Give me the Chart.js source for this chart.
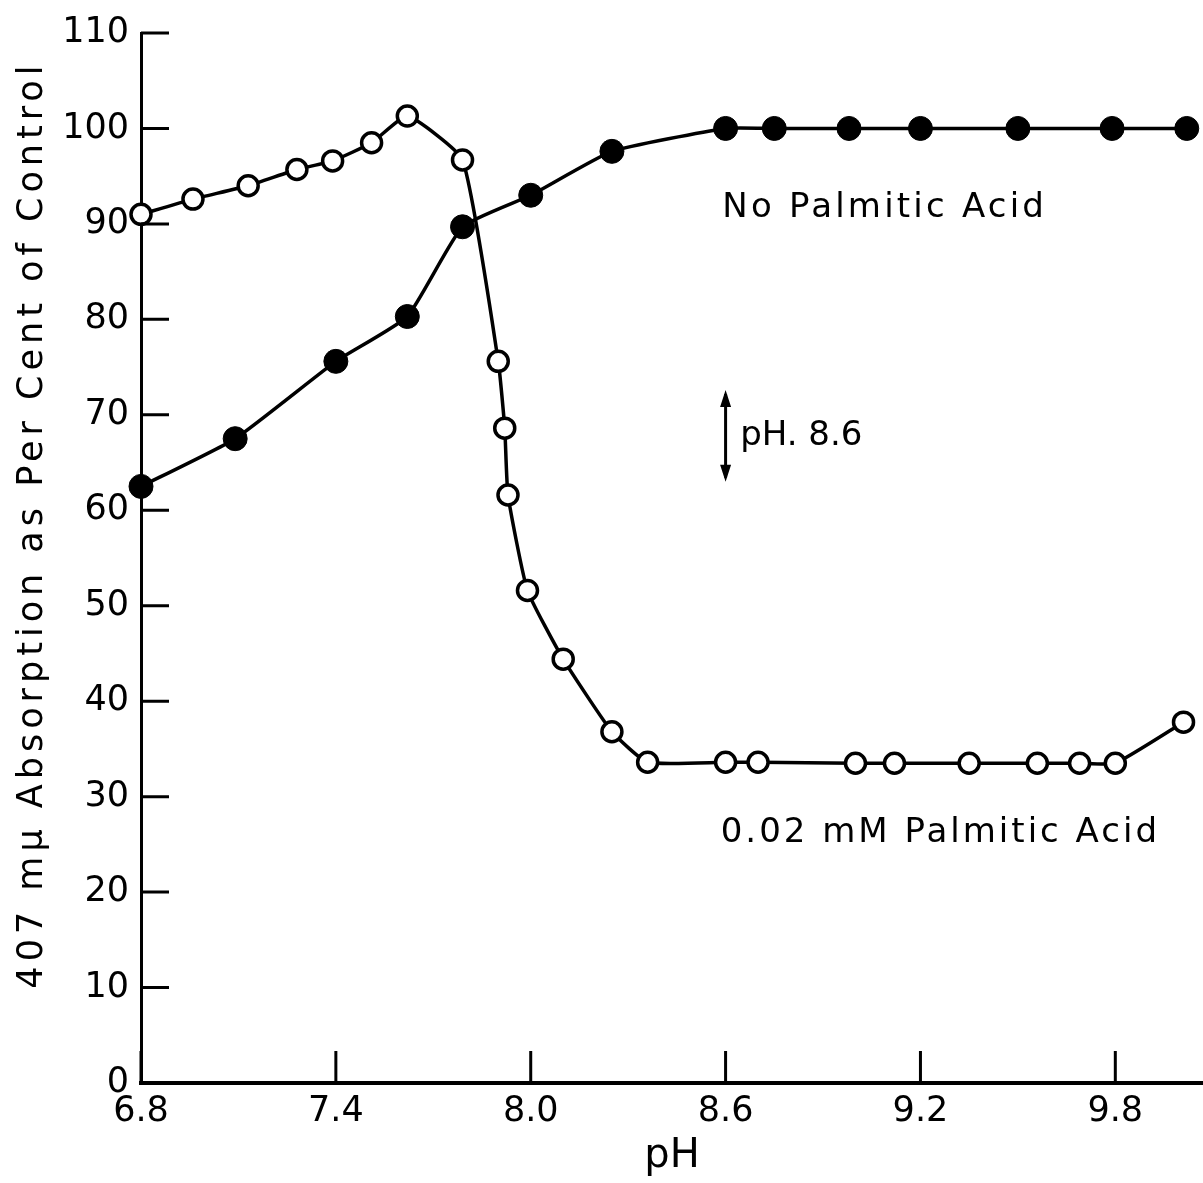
<!DOCTYPE html>
<html>
<head>
<meta charset="utf-8">
<script src="https://cdn.jsdelivr.net/npm/chart.js@4.4.1/dist/chart.umd.min.js"></script>
<style>
  html, body { margin: 0; padding: 0; background: #fff; }
  #wrap { width: 1203px; height: 1183px; position: relative; }
</style>
</head>
<body>
<div id="wrap"><canvas id="chart"></canvas></div>
<script>
// values (pH, % of control)
const openPH   = [6.80, 6.96, 7.13, 7.28, 7.39, 7.51, 7.62, 7.79, 7.90, 7.92, 7.93, 7.99, 8.10, 8.25, 8.36, 8.60, 8.70, 9.00, 9.12, 9.35, 9.56, 9.69, 9.80, 10.01];
const openVal  = [91.0, 92.6, 94.0, 95.7, 96.6, 98.5, 101.3, 96.7, 75.6, 68.6, 61.6, 51.6, 44.4, 36.8, 33.6, 33.6, 33.6, 33.5, 33.5, 33.5, 33.5, 33.5, 33.5, 37.8];
const filledPH  = [6.80, 7.09, 7.40, 7.62, 7.79, 8.00, 8.25, 8.60, 8.75, 8.98, 9.20, 9.50, 9.79, 10.02];
const filledVal = [62.5, 67.5, 75.6, 80.3, 89.7, 93.0, 97.6, 100, 100, 100, 100, 100, 100, 100];
const xTicks = [6.8, 7.4, 8.0, 8.6, 9.2, 9.8];
const yTicks = [0, 10, 20, 30, 40, 50, 60, 70, 80, 90, 100, 110];
const yTitle = '407 m\u03bc Absorption as Per Cent of Control';

const FONT = '"DejaVu Sans", sans-serif';
const INK = '#000';

function toPoints(xs, ys) {
    return xs.map((x, i) => ({ x: x, y: ys[i] }));
}

// ticks in this figure point into the plot, so draw them ourselves
const inwardTicks = {
    id: 'inwardTicks',
    afterDraw(chart) {
        const ctx = chart.ctx;
        const xs = chart.scales.x;
        const ys = chart.scales.y;
        const area = chart.chartArea;
        ctx.save();
        ctx.strokeStyle = INK;
        ctx.lineWidth = 3;
        ctx.beginPath();
        xTicks.forEach(v => {
            const px = xs.getPixelForValue(v);
            ctx.moveTo(px, area.bottom);
            ctx.lineTo(px, area.bottom - 32);
        });
        yTicks.forEach(v => {
            const py = ys.getPixelForValue(v);
            ctx.moveTo(area.left, py);
            ctx.lineTo(area.left + 28, py);
        });
        ctx.stroke();

        ctx.fillStyle = INK;

        // y axis title, spaced out like the original lettering
        ctx.save();
        ctx.translate(ys.left + 33, ys.getPixelForValue(58.5));
        ctx.rotate(-Math.PI / 2);
        ctx.font = '35px ' + FONT;
        ctx.letterSpacing = '5px';
        ctx.textAlign = 'center';
        ctx.textBaseline = 'middle';
        ctx.fillText(yTitle, 0, 0);
        ctx.restore();

        // labels on the curves
        ctx.font = '34px ' + FONT;
        ctx.textBaseline = 'middle';
        ctx.textAlign = 'left';
        ctx.letterSpacing = '3.2px';
        ctx.fillText('No Palmitic Acid', xs.getPixelForValue(8.59), ys.getPixelForValue(91.6));
        ctx.letterSpacing = '3px';
        ctx.fillText('0.02 mM Palmitic Acid', xs.getPixelForValue(8.585), ys.getPixelForValue(26.2));
        ctx.letterSpacing = '0px';
        ctx.fillText('pH. 8.6', xs.getPixelForValue(8.645), ys.getPixelForValue(67.8));

        // double headed arrow at pH 8.6
        const ax = xs.getPixelForValue(8.6);
        const top = ys.getPixelForValue(72.6);
        const bot = ys.getPixelForValue(63.0);
        ctx.lineWidth = 3;
        ctx.beginPath();
        ctx.moveTo(ax, top + 4);
        ctx.lineTo(ax, bot - 4);
        ctx.stroke();
        ctx.beginPath();
        ctx.moveTo(ax, top);
        ctx.lineTo(ax - 5.5, top + 17);
        ctx.lineTo(ax + 5.5, top + 17);
        ctx.closePath();
        ctx.moveTo(ax, bot);
        ctx.lineTo(ax - 5.5, bot - 17);
        ctx.lineTo(ax + 5.5, bot - 17);
        ctx.closePath();
        ctx.fill();
        ctx.restore();
    }
};

new Chart(document.getElementById('chart'), {
    type: 'line',
    data: {
        datasets: [{
            label: 'No Palmitic Acid',
            data: toPoints(filledPH, filledVal),
            borderColor: INK,
            borderWidth: 3.5,
            backgroundColor: INK,
            pointBackgroundColor: INK,
            pointBorderColor: INK,
            pointBorderWidth: 1,
            pointRadius: 12,
            tension: 0.15,
            clip: false
        }, {
            label: '0.02 mM Palmitic Acid',
            data: toPoints(openPH, openVal),
            borderColor: INK,
            borderWidth: 3.5,
            backgroundColor: '#fff',
            pointBackgroundColor: '#fff',
            pointBorderColor: INK,
            pointBorderWidth: 3.5,
            pointRadius: 10,
            tension: 0.15,
            clip: false
        }]
    },
    options: {
        responsive: true,
        maintainAspectRatio: false,
        animation: false,
        events: [],
        layout: { autoPadding: false, padding: { top: 28, right: 0, left: 0, bottom: 0 } },
        scales: {
            x: {
                type: 'linear',
                min: 6.8,
                max: 10.07,
                afterBuildTicks: function (scale) {
                    scale.ticks = xTicks.map(v => ({ value: v }));
                },
                afterFit: function (scale) {
                    scale.height = 100;
                },
                grid: { display: false, drawTicks: false },
                border: { display: true, color: INK, width: 4 },
                ticks: {
                    color: INK,
                    padding: 8,
                    maxRotation: 0,
                    font: { family: FONT, size: 35 },
                    callback: function (value) {
                        return value.toFixed(1);
                    }
                },
                title: {
                    display: true,
                    text: 'pH',
                    color: INK,
                    font: { family: FONT, size: 40 },
                    padding: { top: 0, bottom: 2 }
                }
            },
            y: {
                min: 0,
                max: 110,
                afterBuildTicks: function (scale) {
                    scale.ticks = yTicks.map(v => ({ value: v }));
                },
                afterFit: function (scale) {
                    scale.width = 141;
                },
                grid: { display: false, drawTicks: false },
                border: { display: true, color: INK, width: 3 },
                ticks: {
                    color: INK,
                    padding: 12,
                    font: { family: FONT, size: 35 }
                },
                title: { display: false }
            }
        },
        plugins: {
            legend: { display: false },
            tooltip: { enabled: false }
        }
    },
    plugins: [inwardTicks]
});
</script>
</body>
</html>
